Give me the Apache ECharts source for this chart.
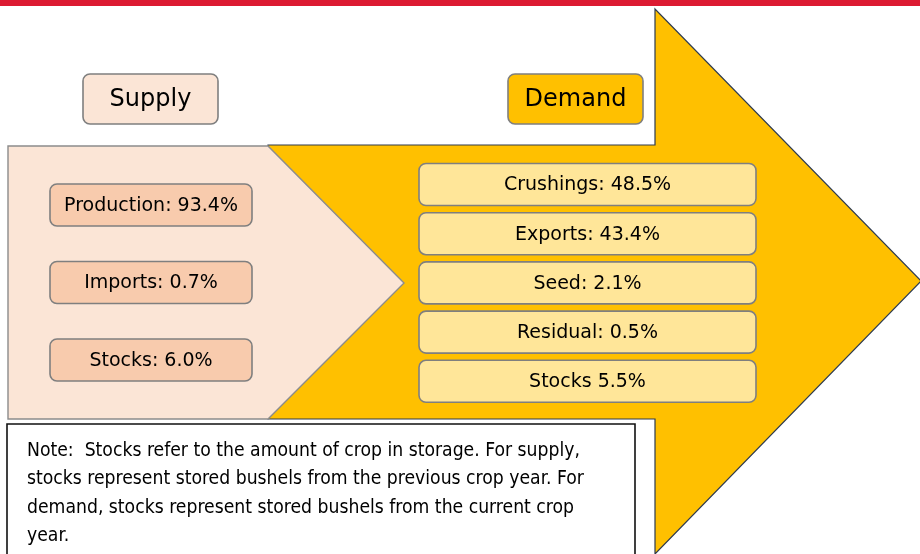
<!DOCTYPE html>
<html>
<head>
<meta charset="utf-8">
<script src="https://cdn.jsdelivr.net/npm/echarts@6/dist/echarts.min.js"></script>
<style>
  html, body { margin: 0; padding: 0; background: #fff; }
  #chart { width: 920px; height: 554px; }
</style>
</head>
<body>
<div id="chart"></div>
<script>
// supply side
const supplyNames = ['Production', 'Imports', 'Stocks']
const supplyValues = [93.4, 0.7, 6.0]
// demand side (last label has no colon in the original)
const demandNames = ['Crushings', 'Exports', 'Seed', 'Residual', 'Stocks']
const demandValues = [48.5, 43.4, 2.1, 0.5, 5.5]
const demandSep = [': ', ': ', ': ', ': ', ' ']
const noteLines = [
  'Note:  Stocks refer to the amount of crop in storage. For supply,',
  'stocks represent stored bushels from the previous crop year. For',
  'demand, stocks represent stored bushels from the current crop',
  'year.'
]

const chart = echarts.init(document.getElementById('chart'))
const FONT = '"DejaVu Sans", Verdana, sans-serif'
const NOTE_FONT = '"DejaVu Sans Condensed", "Liberation Sans Narrow", "Liberation Sans", sans-serif'

function labelBox(x, y, w, h, fill, text, size) {
  return [
    {
      type: 'rect',
      shape: { x: x, y: y, width: w, height: h, r: 7 },
      style: { fill: fill, stroke: '#7f7f7f', lineWidth: 1.6 }
    },
    {
      type: 'text',
      style: {
        text: text, x: x + w / 2, y: y + h / 2 + 1,
        align: 'center', verticalAlign: 'middle',
        font: size + 'px ' + FONT, fill: '#000'
      }
    }
  ]
}

let els = []
// top red band
els.push({ type: 'rect', shape: { x: 0, y: 0, width: 920, height: 6 }, style: { fill: '#dc1a32' } })
// big demand arrow
els.push({
  type: 'polygon',
  shape: { points: [[268, 145], [655, 145], [655, 9], [921, 281], [655, 554], [655, 419], [268, 419]] },
  style: { fill: '#ffc000', stroke: '#2e3b4e', lineWidth: 1.2 }
})
// supply pentagon
els.push({
  type: 'polygon',
  shape: { points: [[8, 146], [268, 146], [404, 283], [268, 419], [8, 419]] },
  style: { fill: '#fbe5d6', stroke: '#8c8c8c', lineWidth: 1.4 }
})
// headers
els = els.concat(labelBox(83, 74, 135, 50, '#fbe5d6', 'Supply', 24))
els = els.concat(labelBox(508, 74, 135, 50, '#ffc000', 'Demand', 24))

supplyNames.forEach((n, i) => {
  const txt = n + ': ' + supplyValues[i].toFixed(1) + '%'
  els = els.concat(labelBox(50, 184 + i * 77.5, 202, 42, '#f8cbad', txt, 19))
})
demandNames.forEach((n, i) => {
  const txt = n + demandSep[i] + demandValues[i].toFixed(1) + '%'
  els = els.concat(labelBox(419, 163.5 + i * 49.2, 337, 42, '#ffe699', txt, 19))
})

// note box
els.push({
  type: 'rect',
  shape: { x: 7, y: 424, width: 628, height: 140 },
  style: { fill: '#fff', stroke: '#111', lineWidth: 1.6 }
})
noteLines.forEach((t, i) => {
  els.push({
    type: 'text',
    style: {
      text: t, x: 27, y: 451 + i * 28.3,
      align: 'left', verticalAlign: 'middle',
      font: '19.2px ' + NOTE_FONT, fill: '#000'
    }
  })
})

chart.setOption({
  animation: false,
  graphic: { elements: els }
})
</script>
</body>
</html>
